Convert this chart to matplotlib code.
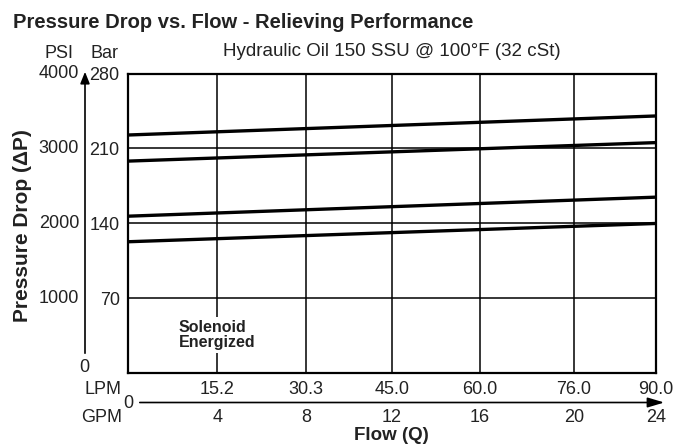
import matplotlib
matplotlib.use("Agg")
import matplotlib.pyplot as plt
import matplotlib.transforms as mtransforms
import matplotlib.patches as mpatches

plt.rcParams['font.family'] = ['Liberation Sans', 'DejaVu Sans']

# Data (pressure in bar vs flow in LPM)
flow_lpm = [0.0, 90.0]
series_bar = [
    [222.5, 240.3],
    [198.1, 215.4],
    [146.6, 164.4],
    [122.7, 139.8],
]
lpm_ticks = [15.2, 30.3, 45.0, 60.0, 76.0, 90.0]
lpm_labels = ["15.2", "30.3", "45.0", "60.0", "76.0", "90.0"]
gpm_labels = ["4", "8", "12", "16", "20", "24"]
bar_ticks = [70, 140, 210, 280]
bar_labels = ["70", "140", "210", "280"]
psi_labels = ["1000", "2000", "3000", "4000"]

W, H = 688, 445
fig = plt.figure(figsize=(W / 100, H / 100), dpi=100)
TXT = '#222222'
FS = 13

def fx(px):
    return px / W

def fy(py):
    return 1 - py / H

L, R, T, B = 128, 656, 73.5, 373
ax = fig.add_axes([fx(L), fy(B), fx(R) - fx(L), fy(T) - fy(B)])
ax.set_xlim(0, 90)
ax.set_ylim(0, 280)

for v in lpm_ticks[:-1]:
    ax.axvline(v, color='black', lw=1.1, zorder=1)
for v in bar_ticks[:-1]:
    ax.axhline(v, color='black', lw=1.1, zorder=1)

for s in series_bar:
    ax.plot(flow_lpm, s, color='black', lw=2.4, solid_capstyle='butt', zorder=3)

for sp in ax.spines.values():
    sp.set_linewidth(1.6)

ax.set_xticks(lpm_ticks)
ax.set_xticklabels(lpm_labels, fontsize=FS, color=TXT)
ax.set_yticks(bar_ticks)
ax.set_yticklabels(bar_labels, fontsize=FS, color=TXT)
ax.tick_params(axis='both', length=0)
ax.tick_params(axis='x', pad=6)
ax.tick_params(axis='y', pad=6)

# PSI labels aligned with bar ticks
tr_y = mtransforms.blended_transform_factory(fig.transFigure, ax.transData)
for t, lab in zip(bar_ticks, psi_labels):
    ax.text(fx(79), t, lab, transform=tr_y, ha='right', va='center', fontsize=FS, color=TXT)
fig.text(fx(84), fy(368), "0", ha='center', va='center', fontsize=FS, color=TXT)

fig.text(fx(59), fy(53), "PSI", ha='center', va='center', fontsize=FS, color=TXT)
fig.text(fx(105), fy(53), "Bar", ha='center', va='center', fontsize=FS, color=TXT)

# PSI arrow
fig.add_artist(mpatches.FancyArrowPatch((fx(85), fy(356)), (fx(85), fy(69)),
               transform=fig.transFigure, arrowstyle='-|>,head_length=7,head_width=2.8',
               color='black', lw=1.2, mutation_scale=1))

# GPM arrow
fig.add_artist(mpatches.FancyArrowPatch((fx(137), fy(402.5)), (fx(667), fy(402.5)),
               transform=fig.transFigure, arrowstyle='-|>,head_length=10,head_width=3',
               color='black', lw=1.2, mutation_scale=1))
fig.text(fx(128), fy(403), "0", ha='center', va='center', fontsize=FS, color=TXT)

tr_x = mtransforms.blended_transform_factory(ax.transData, fig.transFigure)
for t, lab in zip(lpm_ticks, gpm_labels):
    ax.text(t, fy(418), lab, transform=tr_x, ha='center', va='center', fontsize=FS, color=TXT)

fig.text(fx(122), fy(389), "LPM", ha='right', va='center', fontsize=FS, color=TXT)
fig.text(fx(122), fy(418), "GPM", ha='right', va='center', fontsize=FS, color=TXT)
fig.text(fx(391), fy(436), "Flow (Q)", ha='center', va='center', fontsize=13.5,
         fontweight='bold', color=TXT)

fig.text(fx(23), fy(226), "Pressure Drop (ΔP)", ha='center', va='center', rotation=90,
         fontsize=15, fontweight='bold', color=TXT)

fig.text(fx(13), fy(22), "Pressure Drop vs. Flow - Relieving Performance", ha='left', va='center',
         fontsize=14.5, fontweight='bold', color=TXT)
fig.text(fx(392), fy(51), "Hydraulic Oil 150 SSU @ 100°F (32 cSt)", ha='center', va='center',
         fontsize=13.5, color=TXT)

ax.text(fx(179), fy(335), "Solenoid\nEnergized", transform=fig.transFigure, ha='left', va='center',
        fontsize=11.5, fontweight='bold', color=TXT, linespacing=1.0, zorder=5,
        bbox=dict(facecolor='white', edgecolor='none', pad=2))

fig.savefig("out.png", dpi=100)
